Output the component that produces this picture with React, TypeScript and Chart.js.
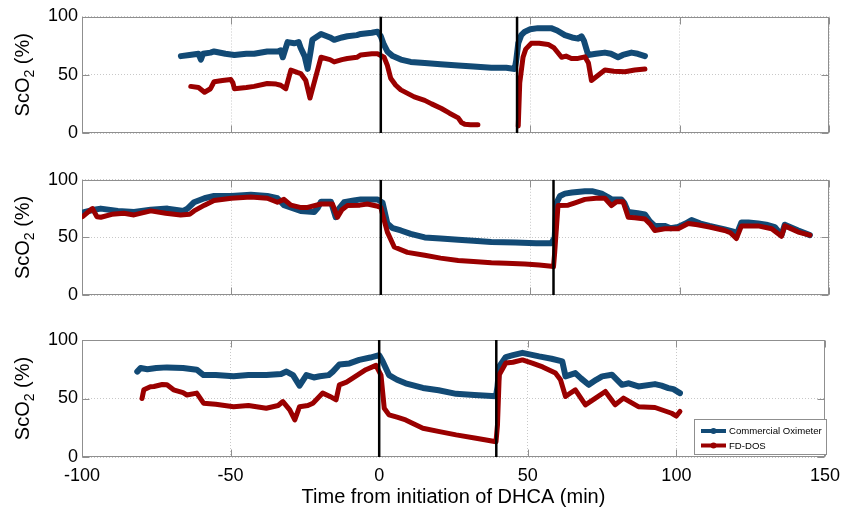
import React, { useEffect, useRef } from "react";
import { Chart, registerables } from "chart.js";

Chart.register(...registerables);

const FONT = '"Liberation Sans", Arial, Helvetica, sans-serif';
const BLUE = "#124a75";
const RED = "#9a0000";

// x axis
const xTicksMin = -100;
const xTicksMax = 150;
const xStep = 50;
const yStep = 50;
const seriesNames = ["Commercial Oximeter", "FD-DOS"];
const xTitle = "Time from initiation of DHCA (min)";

// Panel 1
const p1Events = [0, 45.6];
const p1OxT = [-66.9, -64, -61, -60.2, -59.5, -57, -55.8, -52, -49, -45, -42.4, -38, -34.5, -33.5, -32.8, -31.2, -29, -27.5, -26.8, -25.5, -24.5, -23.5, -22.9, -20, -17, -15.6, -13, -11.2, -8, -6.7, -3, -1.1, 0, 1, 2.2, 4, 6.7, 10, 14.7, 20, 25.9, 31, 37, 42, 44.8, 45.3, 46, 47, 48.2, 50, 52.6, 57, 59, 61.6, 64, 66, 67.2, 68, 69.4, 72, 75, 77, 79.4, 81, 83.9, 86, 88.4];
const p1OxV = [66, 67, 68, 63, 68, 69, 70, 68, 67, 68, 68, 70, 70, 71, 65, 78, 77, 78, 73, 66, 55, 70, 80, 85, 82, 80, 82, 83, 84, 85, 86, 87, 83, 76, 70, 66, 63, 61, 60, 59, 58, 57, 56, 56, 55, 62, 77, 84, 87, 89, 90, 90, 88, 84, 82, 81, 83, 79, 67, 68, 69, 68, 65, 67, 69, 68, 66];
const p1FdT = [-63.6, -61, -59, -57, -55.8, -53, -50.2, -49.5, -49, -45, -42.4, -38, -35, -33.5, -31.8, -30.1, -28, -26.8, -25.1, -23.7, -21.8, -20, -17, -15.6, -13, -11.2, -8, -6.7, -3, -1.1, 1.1, 2.2, 3.3, 5, 6.7, 11.2, 14.7, 17, 20.3, 23, 25.9, 27, 28.1, 30, 32.5, 39, 46, 46.5, 47.6, 48.5, 50.4, 53, 56, 58, 60.5, 62, 63.8, 66, 68.3, 69.5, 70.5, 72, 75, 78, 81.7, 85, 88.4];
const p1FdV = [40, 39, 35, 38, 44, 45, 46, 43, 38, 39, 40, 42.5, 42, 41, 38, 54, 52, 51, 45, 30, 48, 65, 63, 61, 63, 64, 65, 67, 68, 68, 65, 58, 47, 41, 37, 31, 28, 25, 21, 17, 13, 9, 7.5, 7, 7, null, 6, 43, 65, 72, 77, 77, 76, 73, 65, 66, 64, 64, 65.4, 60, 45, 48, 54, 53, 52.6, 54, 55];

// Panel 2
const p2Events = [0, 57.8];
const p2OxT = [-99.3, -96, -93.7, -88, -82.6, -77, -71.4, -66, -64.7, -62.5, -59, -55.8, -50, -43.5, -38, -34.6, -32.4, -29, -26.8, -22.3, -21, -20, -16.7, -15.1, -14, -12.3, -9, -6.7, -3, -1.1, 0.6, 2.2, 4, 6.7, 10, 14.7, 20, 25.9, 31, 37, 45, 52, 57.1, 58.2, 58.8, 60, 61.6, 64, 68.3, 71, 73.9, 76, 77.2, 80.5, 81.5, 82.8, 86, 88.4, 90, 91.7, 95, 97, 99.5, 102, 104, 107, 110, 115.1, 118, 119, 120.7, 123, 126.3, 129, 131.9, 134.1, 135.2, 139.7, 143.6];
const p2OxV = [72, 74, 75, 73, 72, 74, 75, 73, 75, 80.5, 84, 86, 86, 87, 86, 84, 78, 75, 73, 72, 76, 81, 81, 67.5, 75, 80.5, 82, 83, 83, 83, 80, 62, 58, 56, 53, 50, 49, 48, 47, 46, 45.5, 45, 45, 50, 80, 86, 88, 89, 90, 90, 88, 85, 83, 83, 80, 72, 71, 70, 64, 60, 60, 58, 59, 62, 65, 62, 60, 57, 55, 52, 63, 63, 62, 61, 59, 52, 61, 56, 52];
const p2FdT = [-99.8, -98, -96.5, -95, -93.7, -90, -86, -82.6, -77, -72, -67, -64, -62.5, -59, -55.8, -50, -43.5, -38, -34.6, -32.4, -30.1, -27, -24.5, -20, -16.2, -14.5, -13, -11.2, -7, -4.5, -1, 0, 1, 2.2, 4.5, 8.9, 14.7, 20, 25.9, 31, 37, 42, 48.2, 53, 57.1, 57.8, 58.2, 59.3, 62.7, 65, 68.3, 72, 75, 77.2, 78.9, 81.1, 82.8, 85, 88.4, 90, 91.7, 95, 99.5, 102.9, 106, 110, 115.1, 117, 119, 120.7, 126.3, 130.8, 134.1, 135.2, 139.7, 143.6];
const p2FdV = [68, 72, 75, 68, 67.5, 70, 71, 69.5, 73, 71, 69.5, 70, 73, 78, 82, 84, 85, 84, 80.5, 83, 78, 76, 76, 79, 79, 67.5, 74, 77.6, 78, 79, 77, 76, 66, 54.6, 41.7, 37, 34.5, 32, 30, 29, 28, 27.5, 27, 26, 25, 24.5, 37, 77.6, 78, 80, 83, 84, 84, 77.6, 81, 81, 67.5, 67, 66, 62, 56, 57.5, 57.5, 62, 61, 59, 56, 54, 49, 60, 60, 57.5, 51, 60, 54.6, 52];

// Panel 3
const p3Events = [0, 39.4];
const p3OxT = [-81.4, -80.3, -78, -75, -71.4, -66, -61.4, -59.1, -55, -49, -44, -38, -33, -31.2, -29, -26.8, -24.5, -22, -20, -17, -15.6, -13.4, -10, -6.7, -3, 0, 1.1, 3.3, 6, 8.9, 14.7, 20, 25.9, 32, 39.3, 39.8, 40.4, 42.6, 45, 48.2, 53.8, 58, 61.6, 62.7, 66, 68, 70.5, 73, 75, 78.3, 81.7, 84, 87.2, 92.8, 95, 97.3, 99, 101.2];
const p3OxV = [73, 76, 75, 76, 76.6, 76, 74.6, 70, 70, 69, 70, 70, 71, 73, 70, 61, 70, 68, 69, 70, 73, 79, 80, 83, 85, 87, 82, 70, 66, 63, 59, 57, 54, 53, 52, 60, 77.4, 85.4, 87, 89, 86, 84, 81.7, 68.9, 71.7, 67, 61.7, 66, 68.9, 70.3, 61.7, 63, 60.3, 62.3, 61, 58.9, 58, 54.6];
const p3FdT = [-79.8, -79.2, -77, -75.8, -73, -71.4, -69.2, -66, -64.7, -61.4, -59.1, -55, -49, -44, -38, -34, -32.4, -30.1, -28.4, -26.8, -24, -22.3, -19, -16, -14.5, -13.4, -11, -8.9, -4.5, -1.1, 0.6, 1.7, 3.3, 6, 8.9, 14.7, 20.3, 25.9, 32.6, 36, 39.3, 39.8, 40.4, 42.6, 45, 48.2, 51.5, 55, 59.3, 61, 62.7, 64, 66, 69.4, 72.8, 76.1, 79.4, 82.2, 87.2, 92.8, 98.4, 100, 101.2];
const p3FdV = [50, 57.4, 60, 60.3, 62, 61.7, 57.4, 55, 53, 54.6, 46, 45, 43, 44, 41.7, 44, 47.4, 40.3, 31.7, 43, 44, 46, 54.6, 51, 48.9, 61.7, 64, 67.4, 74.6, 78.3, 70, 41.7, 36, 34, 31.7, 24.6, 21.7, 18.9, 16, 14.5, 13, 27.4, 70.3, 80.3, 81, 83, 80.3, 77, 71.7, 66, 51.7, 54, 57.4, 44.6, 50.3, 56, 44.6, 50.3, 43, 42.3, 37.4, 35, 38.9];

const pts = (t: number[], v: (number | null)[]) => t.map((x, i) => ({ x, y: v[i] }));

type PanelProps = {
  top: number;
  height: number;
  padTop: number;
  xHeight: number;
  showX: boolean;
  oxT: number[];
  oxV: (number | null)[];
  fdT: number[];
  fdV: (number | null)[];
  events: number[];
  legend: boolean;
};

const framePlugin = {
  id: "frame",
  beforeDatasetsDraw(chart: any) {
    const { ctx, chartArea: a, scales } = chart;
    ctx.save();
    ctx.strokeStyle = "#8f8f8f";
    ctx.lineWidth = 1;
    const L = Math.round(a.left) + 0.5, R = Math.round(a.right) - 0.5;
    const T = Math.round(a.top) + 0.5, B = Math.round(a.bottom) - 0.5;
    ctx.strokeRect(L, T, R - L, B - T);
    const tl = 7;
    ctx.beginPath();
    scales.x.ticks.forEach((tk: any) => {
      const px = Math.round(scales.x.getPixelForValue(tk.value)) + 0.5;
      ctx.moveTo(px, B); ctx.lineTo(px, B - tl);
      ctx.moveTo(px, T); ctx.lineTo(px, T + tl);
    });
    scales.y.ticks.forEach((tk: any) => {
      const py = Math.round(scales.y.getPixelForValue(tk.value)) + 0.5;
      ctx.moveTo(L, py); ctx.lineTo(L + tl, py);
      ctx.moveTo(R, py); ctx.lineTo(R - tl, py);
    });
    ctx.stroke();
    ctx.restore();
  },
  afterDraw(chart: any, _args: any, opts: any) {
    const { ctx, chartArea: a } = chart;
    // y title with subscript
    ctx.save();
    ctx.fillStyle = "#000";
    const cy = (a.top + a.bottom) / 2;
    const big = `20px ${FONT}`;
    const small = `14px ${FONT}`;
    ctx.font = big;
    const w1 = ctx.measureText("ScO").width;
    const w3 = ctx.measureText(" (%)").width;
    ctx.font = small;
    const w2 = ctx.measureText("2").width;
    const total = w1 + w2 + w3;
    ctx.translate(29, cy);
    ctx.rotate(-Math.PI / 2);
    ctx.textBaseline = "alphabetic";
    ctx.textAlign = "left";
    let x = -total / 2;
    ctx.font = big;
    ctx.fillText("ScO", x, 0);
    x += w1;
    ctx.font = small;
    ctx.fillText("2", x, 5);
    x += w2;
    ctx.font = big;
    ctx.fillText(" (%)", x, 0);
    ctx.restore();

    if (opts && opts.legend) {
      const bx = 694, by = 94, bw = 132, bh = 35;
      ctx.save();
      ctx.fillStyle = "#fff";
      ctx.fillRect(bx, by, bw, bh);
      ctx.strokeStyle = "#8f8f8f";
      ctx.lineWidth = 1;
      ctx.strokeRect(bx + 0.5, by + 0.5, bw, bh);
      const rows = [
        { c: BLUE, t: seriesNames[0], y: by + 12 },
        { c: RED, t: seriesNames[1], y: by + 26.5 },
      ];
      ctx.font = `9.6px ${FONT}`;
      ctx.textBaseline = "middle";
      rows.forEach((r) => {
        ctx.strokeStyle = r.c;
        ctx.lineWidth = 4;
        ctx.beginPath();
        ctx.moveTo(bx + 7, r.y);
        ctx.lineTo(bx + 32, r.y);
        ctx.stroke();
        ctx.fillStyle = r.c;
        ctx.beginPath();
        ctx.arc(bx + 19.5, r.y, 3, 0, Math.PI * 2);
        ctx.fill();
        ctx.fillStyle = "#000";
        ctx.fillText(r.t, bx + 35, r.y + 0.5);
      });
      ctx.restore();
    }
  },
};

function Panel(p: PanelProps) {
  const ref = useRef<HTMLCanvasElement | null>(null);
  useEffect(() => {
    if (!ref.current) return;
    const evDatasets = p.events.map((e) => ({
      label: "event",
      data: [{ x: e, y: 0 }, { x: e, y: 100 }],
      borderColor: "#000",
      borderWidth: 2.5,
      pointRadius: 0,
    }));
    const chart = new Chart(ref.current, {
      type: "line",
      data: {
        datasets: [
          ...evDatasets,
          {
            label: seriesNames[1],
            data: pts(p.fdT, p.fdV),
            borderColor: RED,
            backgroundColor: RED,
            borderWidth: 5,
            pointRadius: 0,
            borderJoinStyle: "round",
            borderCapStyle: "round",
            spanGaps: false,
          },
          {
            label: seriesNames[0],
            data: pts(p.oxT, p.oxV),
            borderColor: BLUE,
            backgroundColor: BLUE,
            borderWidth: 6,
            pointRadius: 0,
            borderJoinStyle: "round",
            borderCapStyle: "round",
          },
        ] as any,
      },
      options: {
        animation: false,
        responsive: false,
        maintainAspectRatio: false,
        events: [],
        layout: { padding: { top: p.padTop, right: 19, left: 0, bottom: 0 } },
        plugins: {
          legend: { display: false },
          tooltip: { enabled: false },
          frame: { legend: p.legend },
        } as any,
        scales: {
          x: {
            type: "linear",
            min: xTicksMin,
            max: xTicksMax,
            ticks: {
              stepSize: xStep,
              display: p.showX,
              color: "#000",
              font: { family: FONT, size: 18 },
              padding: 8,
              maxRotation: 0,
              autoSkip: false,
            },
            grid: { color: "#c8c8c8", lineWidth: 1, drawTicks: false },
            border: { display: false, dash: [1, 2] },
            title: {
              display: p.showX,
              text: xTitle,
              color: "#000",
              font: { family: FONT, size: 20, lineHeight: 1.2 },
              padding: { top: 0, bottom: 1 },
            },
            afterFit: (s: any) => {
              s.height = p.xHeight;
            },
          },
          y: {
            min: 0,
            max: 100,
            ticks: {
              stepSize: yStep,
              color: "#000",
              font: { family: FONT, size: 18 },
              padding: 4,
            },
            grid: { color: "#c8c8c8", lineWidth: 1, drawTicks: false },
            border: { display: false, dash: [1, 2] },
            afterFit: (s: any) => {
              s.width = 82;
            },
          },
        },
      } as any,
      plugins: [framePlugin as any],
    });
    return () => chart.destroy();
  }, []);
  return (
    <canvas
      ref={ref}
      width={848}
      height={p.height}
      style={{ position: "absolute", left: 0, top: p.top, width: 848, height: p.height, display: "block" }}
    />
  );
}

export default function App() {
  return (
    <div style={{ position: "fixed", left: 0, top: 0, width: 848, height: 510, background: "#fff", overflow: "hidden" }}>
      <Panel top={0} height={165} padTop={16.5} xHeight={32} showX={false} oxT={p1OxT} oxV={p1OxV} fdT={p1FdT} fdV={p1FdV} events={p1Events} legend={false} />
      <Panel top={165} height={160} padTop={14} xHeight={30} showX={false} oxT={p2OxT} oxV={p2OxV} fdT={p2FdT} fdV={p2FdV} events={p2Events} legend={false} />
      <Panel top={325} height={185} padTop={15} xHeight={53} showX={true} oxT={p3OxT} oxV={p3OxV} fdT={p3FdT} fdV={p3FdV} events={p3Events} legend={true} />
    </div>
  );
}
